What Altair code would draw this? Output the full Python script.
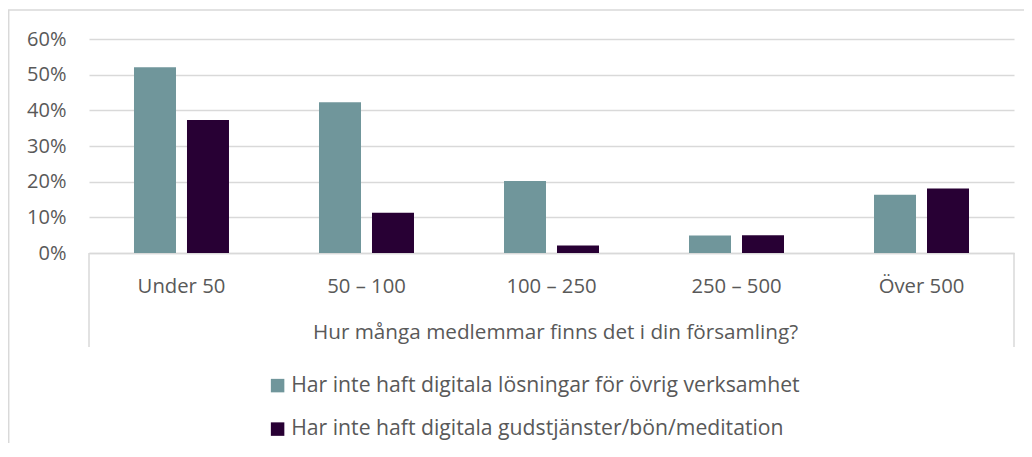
import altair as alt
import pandas as pd

categories = ["Under 50", "50 – 100", "100 – 250", "250 – 500", "Över 500"]
series_names = [
    "Har inte haft digitala lösningar för övrig verksamhet",
    "Har inte haft digitala gudstjänster/bön/meditation",
]
ovrig = [0.521, 0.423, 0.202, 0.049, 0.163]
gudstj = [0.373, 0.113, 0.021, 0.050, 0.181]
y_ticks = [0, 0.1, 0.2, 0.3, 0.4, 0.5, 0.6]
x_title = "Hur många medlemmar finns det i din församling?"
colors = ["#70969B", "#280034"]

rows = []
for i, c in enumerate(categories):
    rows.append({"cat": c, "serie": series_names[0], "val": ovrig[i], "ord": 0})
    rows.append({"cat": c, "serie": series_names[1], "val": gudstj[i], "ord": 1})
df = pd.DataFrame(rows)

FONT = "Open Sans"
FS = 20
TXT = "#595959"
GRID = "#D9D9D9"
W, H = 925, 214

bars = alt.Chart(df).mark_bar(size=42).encode(
    x=alt.X("cat:N", sort=categories,
            scale=alt.Scale(paddingInner=0.4865, paddingOuter=0.2432),
            axis=alt.Axis(title=x_title, labelAngle=0, ticks=False, labelPadding=23,
                          labelFontSize=20.3, labelColor=TXT, labelFont=FONT,
                          titleFontSize=20.7, titleColor=TXT, titleFont=FONT,
                          titleFontWeight="normal", titlePadding=26, titleX=466,
                          domainColor=GRID, domainWidth=1.5, grid=False)),
    xOffset=alt.XOffset("serie:N", sort=series_names,
                        scale=alt.Scale(paddingInner=0.2075, paddingOuter=0)),
    y=alt.Y("val:Q", scale=alt.Scale(domain=[0, 0.6]),
            axis=alt.Axis(title=None, values=y_ticks, format=".0%", ticks=False,
                          domain=False, labelPadding=23, labelFontSize=FS,
                          labelColor=TXT, labelFont=FONT, gridColor=GRID,
                          gridWidth=1.3)),
    color=alt.Color("serie:N", sort=series_names,
                    scale=alt.Scale(domain=series_names, range=colors),
                    legend=alt.Legend(orient="none", legendX=178, legendY=336,
                                      direction="vertical", title=None,
                                      symbolType="square", symbolSize=182,
                                      symbolStrokeWidth=0, labelFontSize=21.2,
                                      labelColor=TXT, labelFont=FONT,
                                      rowPadding=21.5, labelOffset=3, padding=0,
                                      labelLimit=800)),
)

one = pd.DataFrame({"a": [0]})
left_box = alt.Chart(one).mark_rule(color=GRID, strokeWidth=1.5).encode(
    x=alt.value(0), y=alt.value(H), y2=alt.value(H + 94))
right_box = alt.Chart(one).mark_rule(color=GRID, strokeWidth=1.5).encode(
    x=alt.value(W), y=alt.value(H), y2=alt.value(H + 94))
top_border = alt.Chart(one).mark_rule(color=GRID, strokeWidth=1.5).encode(
    x=alt.value(-81), x2=alt.value(W + 20), y=alt.value(-29))
left_border = alt.Chart(one).mark_rule(color=GRID, strokeWidth=1.5).encode(
    x=alt.value(-80.3), y=alt.value(-29), y2=alt.value(420))

chart = alt.layer(bars, left_box, right_box, top_border, left_border).properties(
    width=W, height=H,
    autosize=alt.AutoSizeParams(type="none"),
    padding={"left": 81, "top": 31, "right": 10, "bottom": 190},
).configure_view(stroke=None)

chart.save("out.html", embed_options={"renderer": "svg", "actions": False})
